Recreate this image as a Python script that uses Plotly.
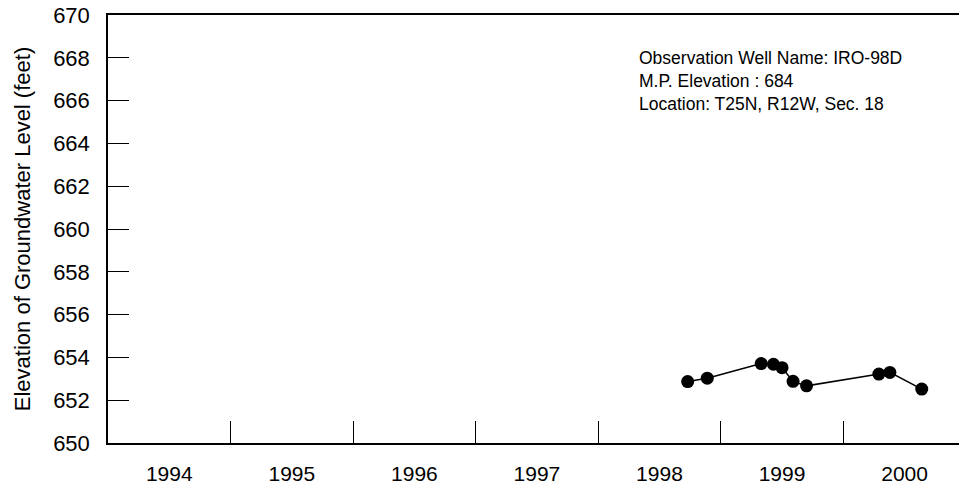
import plotly.graph_objects as go

# decimal-year dates of observations
dates = [1998.73, 1998.89, 1999.33, 1999.43, 1999.50, 1999.59, 1999.70, 2000.29, 2000.38, 2000.64]
levels = [652.87, 653.03, 653.71, 653.68, 653.52, 652.88, 652.67, 653.22, 653.30, 652.52]

year_labels = ["1994", "1995", "1996", "1997", "1998", "1999", "2000"]
year_centers = [1994.5, 1995.5, 1996.5, 1997.5, 1998.5, 1999.5, 2000.5]
year_bounds = [1995, 1996, 1997, 1998, 1999, 2000]
y_ticks = [650, 652, 654, 656, 658, 660, 662, 664, 666, 668, 670]

info_lines = ["Observation Well Name: IRO-98D", "M.P. Elevation : 684", "Location: T25N, R12W, Sec. 18"]

FONT = "Arial, Liberation Sans, sans-serif"

fig = go.Figure()
fig.add_trace(go.Scatter(
    x=dates, y=levels, mode="lines+markers",
    line=dict(color="black", width=1.5),
    marker=dict(color="black", size=13, symbol="circle"),
    showlegend=False,
))

fig.update_layout(
    width=959, height=489,
    margin=dict(l=108, r=0, t=15, b=46),
    paper_bgcolor="white", plot_bgcolor="white",
    font=dict(family=FONT, color="black"),
    xaxis=dict(
        range=[1994, 2000.944],
        tickvals=year_centers, ticktext=year_labels,
        ticks="", showgrid=False, zeroline=False,
        showline=True, linecolor="black", linewidth=1.5, mirror=True,
        tickfont=dict(size=21, family=FONT),
        ticklabelstandoff=11,
        minor=dict(tickvals=year_bounds, ticks="inside", ticklen=22,
                   tickcolor="black", tickwidth=1.2, showgrid=False),
    ),
    yaxis=dict(
        range=[650, 670],
        tickvals=y_ticks,
        ticks="inside", ticklen=21, tickcolor="black", tickwidth=1.2,
        showgrid=False, zeroline=False,
        showline=True, linecolor="black", linewidth=1.5,
        tickfont=dict(size=22, family=FONT),
        ticklabelstandoff=12,
        title=dict(text="Elevation of Groundwater Level (feet)",
                   font=dict(size=22, family=FONT), standoff=16),
    ),
    annotations=[dict(
        xref="paper", yref="paper", x=0.622, y=0.927,
        xanchor="left", yanchor="top", align="left", showarrow=False,
        text="<br>".join(info_lines),
        font=dict(size=17.5, family=FONT, color="black"),
    )],
)

fig.write_html("out.html")
